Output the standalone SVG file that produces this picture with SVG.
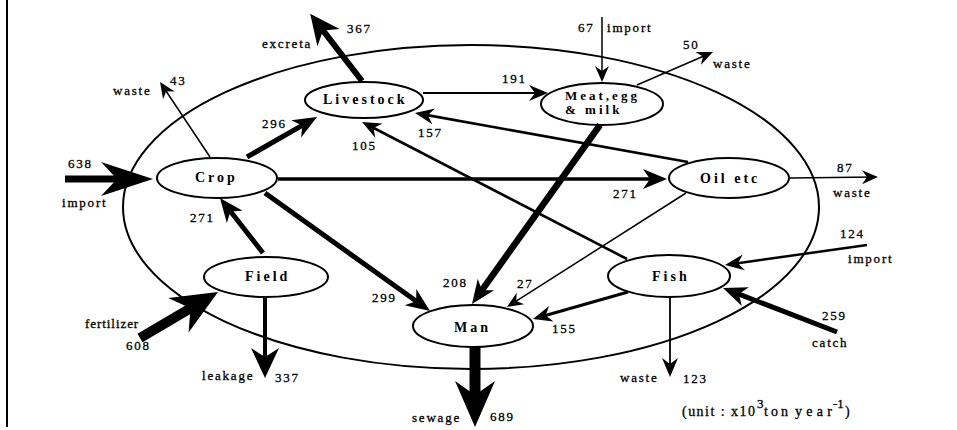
<svg xmlns="http://www.w3.org/2000/svg" width="957" height="430" viewBox="0 0 957 430">
<style>
.bg{fill:#fff}
.node ellipse{fill:#fff;stroke:#000;stroke-width:2}
.nt{font-family:"Liberation Serif",serif;font-weight:bold;font-size:14px;letter-spacing:3px;fill:#000}
.lb{font-family:"Liberation Serif",serif;font-size:13px;letter-spacing:1.8px;fill:#000;stroke:#000;stroke-width:0.3px}
.un{font-family:"Liberation Serif",serif;font-size:14px;fill:#000;stroke:#000;stroke-width:0.3px}
.sup{font-family:"Liberation Serif",serif;font-size:13px;fill:#000;stroke:#000;stroke-width:0.3px}
#connectors line{stroke:#000;fill:none;stroke-linecap:butt}
marker path{fill:#000}
</style>
<defs>
<marker id="s" markerUnits="userSpaceOnUse" markerWidth="16" markerHeight="16" viewBox="0 -8 16 16" refX="13" refY="0" orient="auto" overflow="visible"><path d="M0,-7 L16,0 L0,7 L5,0 Z"/></marker>
<marker id="sm" markerUnits="userSpaceOnUse" markerWidth="19" markerHeight="18" viewBox="0 -9 19 18" refX="8" refY="0" orient="auto" overflow="visible"><path d="M0,-8 L19,0 L0,8 L6,0 Z"/></marker>
<marker id="m" markerUnits="userSpaceOnUse" markerWidth="24" markerHeight="22" viewBox="0 -11 24 22" refX="9" refY="0" orient="auto" overflow="visible"><path d="M0,-10 L24,0 L0,10 L7,0 Z"/></marker>
<marker id="l" markerUnits="userSpaceOnUse" markerWidth="30" markerHeight="30" viewBox="0 -15 30 30" refX="11" refY="0" orient="auto" overflow="visible"><path d="M0,-14 L30,0 L0,14 L9,0 Z"/></marker>
<marker id="xl" markerUnits="userSpaceOnUse" markerWidth="46" markerHeight="44" viewBox="0 -22 46 44" refX="16" refY="0" orient="auto" overflow="visible"><path d="M0,-20 L46,0 L0,20 L14,0 Z"/></marker>
<marker id="xl2" markerUnits="userSpaceOnUse" markerWidth="52" markerHeight="36" viewBox="0 -18 52 36" refX="18" refY="0" orient="auto" overflow="visible"><path d="M0,-17 L52,0 L0,17 L16,0 Z"/></marker>
</defs>
<rect class="bg" x="0" y="0" width="957" height="430"/>
<line x1="7" y1="0" x2="7" y2="427" stroke="#000" stroke-width="2"/>
<ellipse id="boundary" cx="471" cy="207" rx="348" ry="162" fill="none" stroke="#000" stroke-width="2"/>

<g id="nodes">
<g id="node-livestock" class="node"><ellipse cx="364" cy="100" rx="59" ry="18"/><text class="nt" x="323" y="104">Livestock</text></g>
<g id="node-crop" class="node"><ellipse cx="217" cy="178" rx="60" ry="20"/><text class="nt" x="195" y="182">Crop</text></g>
<g id="node-meat" class="node"><ellipse cx="602" cy="104" rx="61" ry="21"/><text class="nt" x="565" y="100" style="font-size:13px">Meat,egg</text><text class="nt" x="565" y="114" style="font-size:13px">&amp; milk</text></g>
<g id="node-oil" class="node"><ellipse cx="729" cy="178" rx="60" ry="20"/><text class="nt" x="700" y="183">Oil etc</text></g>
<g id="node-field" class="node"><ellipse cx="266" cy="277" rx="62" ry="20"/><text class="nt" x="245" y="281">Field</text></g>
<g id="node-man" class="node"><ellipse cx="473" cy="326" rx="60" ry="21"/><text class="nt" x="454" y="332">Man</text></g>
<g id="node-fish" class="node"><ellipse cx="669" cy="276" rx="61" ry="21"/><text class="nt" x="652" y="281">Fish</text></g>
</g>

<g id="connectors">
<line x1="65" y1="179" x2="119" y2="179" stroke-width="7" marker-end="url(#xl2)"/>
<line x1="210" y1="157" x2="161.7" y2="84.5" stroke-width="1.5" marker-end="url(#s)"/>
<line x1="362" y1="81" x2="321.8" y2="28.9" stroke-width="6" marker-end="url(#l)"/>
<line x1="247" y1="157" x2="304" y2="124.4" stroke-width="5" marker-end="url(#m)"/>
<line x1="423" y1="93" x2="537" y2="93" stroke-width="2.2" marker-end="url(#sm)"/>
<line x1="688" y1="162" x2="425.8" y2="114.9" stroke-width="2.6" marker-end="url(#sm)"/>
<line x1="627" y1="259" x2="371.8" y2="127" stroke-width="2.6" marker-end="url(#sm)"/>
<line x1="278" y1="179" x2="652" y2="179" stroke-width="3.5" marker-end="url(#m)"/>
<line x1="265" y1="193" x2="417.8" y2="302.3" stroke-width="5" marker-end="url(#m)"/>
<line x1="600" y1="125" x2="480.7" y2="291.8" stroke-width="6.5" marker-end="url(#m)"/>
<line x1="686" y1="193" x2="509.5" y2="305.4" stroke-width="1.5" marker-end="url(#s)"/>
<line x1="628" y1="292" x2="543.6" y2="316" stroke-width="3" marker-end="url(#sm)"/>
<line x1="790" y1="178" x2="875" y2="177" stroke-width="1.5" marker-end="url(#s)"/>
<line x1="602" y1="17" x2="602" y2="79" stroke-width="1.5" marker-end="url(#s)"/>
<line x1="637" y1="85" x2="710.2" y2="53.2" stroke-width="1.5" marker-end="url(#s)"/>
<line x1="263" y1="253" x2="229.2" y2="209.8" stroke-width="5" marker-end="url(#m)"/>
<line x1="140" y1="338" x2="192.2" y2="307.2" stroke-width="10" marker-end="url(#xl)"/>
<line x1="265" y1="297" x2="265" y2="359" stroke-width="4" marker-end="url(#l)"/>
<line x1="475" y1="347" x2="475" y2="397" stroke-width="11" marker-end="url(#xl)"/>
<line x1="670" y1="297" x2="670" y2="366" stroke-width="1.8" marker-end="url(#sm)"/>
<line x1="867" y1="245" x2="735.9" y2="263.5" stroke-width="2.5" marker-end="url(#sm)"/>
<line x1="837" y1="332" x2="737" y2="293.4" stroke-width="5" marker-end="url(#m)"/>
</g>

<g id="labels">
<text class="lb" x="68" y="168">638</text>
<text class="lb" x="62" y="207">import</text>
<text class="lb" x="113" y="95">waste</text>
<text class="lb" x="170" y="85">43</text>
<text class="lb" x="262" y="48">excreta</text>
<text class="lb" x="347" y="33">367</text>
<text class="lb" x="262" y="128">296</text>
<text class="lb" x="502" y="83">191</text>
<text class="lb" x="418" y="137">157</text>
<text class="lb" x="352" y="150">105</text>
<text class="lb" x="613" y="198">271</text>
<text class="lb" x="372" y="302">299</text>
<text class="lb" x="443" y="287">208</text>
<text class="lb" x="517" y="288">27</text>
<text class="lb" x="552" y="333">155</text>
<text class="lb" x="837" y="172">87</text>
<text class="lb" x="833" y="197">waste</text>
<text class="lb" x="578" y="32">67</text>
<text class="lb" x="607" y="32">import</text>
<text class="lb" x="683" y="49">50</text>
<text class="lb" x="713" y="68">waste</text>
<text class="lb" x="190" y="222">271</text>
<text class="lb" x="85" y="328" textLength="55" lengthAdjust="spacing">fertilizer</text>
<text class="lb" x="126" y="350">608</text>
<text class="lb" x="202" y="380">leakage</text>
<text class="lb" x="275" y="382">337</text>
<text class="lb" x="412" y="422">sewage</text>
<text class="lb" x="490" y="421">689</text>
<text class="lb" x="620" y="382">waste</text>
<text class="lb" x="683" y="383">123</text>
<text class="lb" x="840" y="238">124</text>
<text class="lb" x="848" y="263">import</text>
<text class="lb" x="822" y="320">259</text>
<text class="lb" x="812" y="347">catch</text>
<text class="un" x="682" y="416" textLength="73" lengthAdjust="spacing">(unit : x10</text>
<text class="sup" x="757" y="408">3</text>
<text class="un" x="764" y="416" textLength="24" lengthAdjust="spacing">ton</text>
<text class="un" x="795" y="416" textLength="37" lengthAdjust="spacing">year</text>
<text class="sup" x="833" y="408">-1</text>
<text class="un" x="845" y="416">)</text>
</g>
</svg>
